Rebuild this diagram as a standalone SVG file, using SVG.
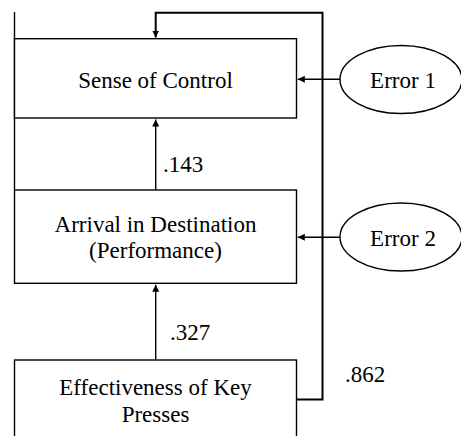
<svg xmlns="http://www.w3.org/2000/svg" width="461" height="436" viewBox="0 0 461 436">
  <defs>
    <marker id="head" markerWidth="8" markerHeight="8" refX="7" refY="3.5" orient="auto" markerUnits="userSpaceOnUse">
      <path d="M0,0 L7,3.5 L0,7 Z" fill="#000000"/>
    </marker>
  </defs>
  <rect width="461" height="436" fill="#ffffff"/>

  <!-- shared text look inherited by every label below -->
  <g font-family="Liberation Serif, serif" font-size="23" fill="#000000">

    <!-- connectors -->
    <g id="connectors" fill="none" stroke="#000000" stroke-width="1.4">
      <line x1="14.5" y1="12" x2="14.5" y2="190"/>
      <path d="M296.5,399.5 H322.5 V12.8 H155.7 V37.5" stroke-width="2" marker-end="url(#head)"/>
      <line x1="155.7" y1="190" x2="155.7" y2="119.5" marker-end="url(#head)"/>
      <line x1="155.7" y1="360" x2="155.7" y2="284.7" marker-end="url(#head)"/>
      <line x1="340" y1="79.3" x2="297.8" y2="79.3" marker-end="url(#head)"/>
      <line x1="340" y1="237.3" x2="297.8" y2="237.3" marker-end="url(#head)"/>
    </g>
    <g id="path-coefficients">
      <text x="163" y="172">.143</text>
      <text x="170" y="340">.327</text>
      <text x="345" y="382">.862</text>
    </g>

    <g id="sense-of-control">
      <rect x="14.5" y="38.7" width="282" height="79.3" fill="#ffffff" stroke="#000000" stroke-width="1.4"/>
      <text x="155.5" y="88" text-anchor="middle">Sense of Control</text>
    </g>

    <g id="arrival">
      <rect x="14.5" y="190" width="282" height="93.3" fill="#ffffff" stroke="#000000" stroke-width="1.4"/>
      <text x="155.5" y="231.5" text-anchor="middle">Arrival in Destination</text>
      <text x="155.5" y="257.5" text-anchor="middle">(Performance)</text>
    </g>

    <g id="effectiveness">
      <rect x="14.5" y="360" width="282" height="90" fill="#ffffff" stroke="#000000" stroke-width="1.4"/>
      <text x="155.5" y="395" text-anchor="middle">Effectiveness of Key</text>
      <text x="155.5" y="421.5" text-anchor="middle">Presses</text>
    </g>

    <g id="error-1">
      <ellipse cx="401" cy="79.5" rx="61" ry="34" fill="#ffffff" stroke="#000000" stroke-width="1.4"/>
      <text x="403" y="88" text-anchor="middle">Error 1</text>
    </g>

    <g id="error-2">
      <ellipse cx="401" cy="237" rx="61" ry="34" fill="#ffffff" stroke="#000000" stroke-width="1.4"/>
      <text x="403" y="246" text-anchor="middle">Error 2</text>
    </g>
  </g>
</svg>
